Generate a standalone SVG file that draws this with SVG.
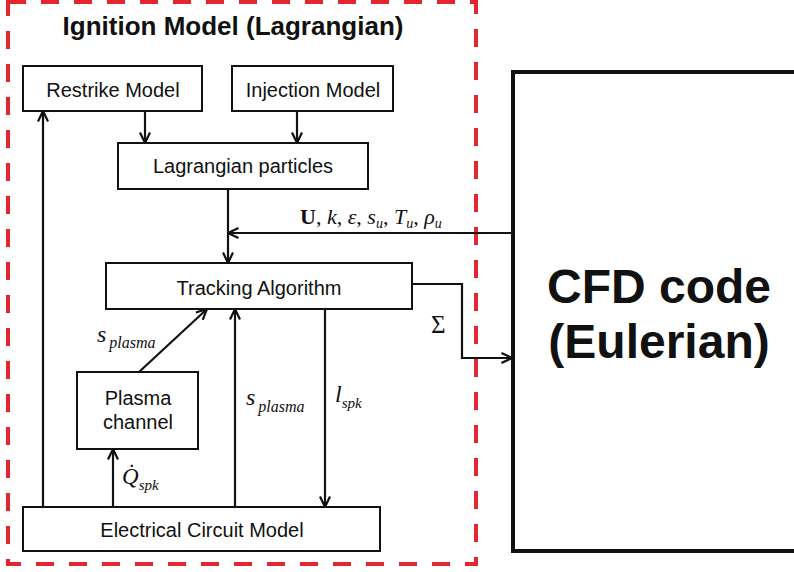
<svg xmlns="http://www.w3.org/2000/svg" width="794" height="572" viewBox="0 0 794 572">
<style>
.box{fill:#fff;stroke:#111;stroke-width:2}
.lbl{font-family:"Liberation Sans",Arial,sans-serif;font-size:20px;fill:#111;text-anchor:middle}
.math{font-family:"Liberation Serif","Times New Roman",serif;font-style:italic;fill:#111}
.con{fill:none;stroke:#111;stroke-width:2.2}
</style>
<defs>
<marker id="arr" viewBox="0 0 12 12" refX="11.5" refY="6" markerWidth="12" markerHeight="12" markerUnits="userSpaceOnUse" orient="auto">
<path d="M1,1 L11.5,6 L1,11" fill="none" stroke="#111" stroke-width="2.2"/>
</marker>
</defs>
<rect width="794" height="572" fill="#fff"/>
<g id="ignition-frame">
<rect x="8" y="2" width="468" height="562" fill="none" stroke="#e3262f" stroke-width="4" stroke-dasharray="18 15"/>
<text x="233" y="35" style="font-family:'Liberation Sans',Arial,sans-serif;font-size:26px;font-weight:bold;fill:#111" text-anchor="middle">Ignition Model (Lagrangian)</text>
</g>
<g id="cfd">
<rect x="513" y="72" width="300" height="479" fill="#fff" stroke="#111" stroke-width="4"/>
<text x="659" y="303" style="font-family:'Liberation Sans',Arial,sans-serif;font-size:48px;font-weight:bold;fill:#111" text-anchor="middle">CFD code</text>
<text x="659" y="358" style="font-family:'Liberation Sans',Arial,sans-serif;font-size:48px;font-weight:bold;fill:#111" text-anchor="middle">(Eulerian)</text>
</g>
<g id="restrike">
<rect class="box" x="23" y="66" width="179" height="45"/>
<text class="lbl" x="113" y="97">Restrike Model</text>
</g>
<g id="injection">
<rect class="box" x="232" y="66" width="161" height="45"/>
<text class="lbl" x="313" y="97">Injection Model</text>
</g>
<g id="lagrangian">
<rect class="box" x="118" y="143" width="250" height="46"/>
<text class="lbl" x="243" y="173">Lagrangian particles</text>
</g>
<g id="tracking">
<rect class="box" x="106" y="263" width="306" height="46"/>
<text class="lbl" x="259" y="295">Tracking Algorithm</text>
</g>
<g id="plasma">
<rect class="box" x="77" y="372" width="121" height="77"/>
<text class="lbl" x="138" y="405">Plasma</text>
<text class="lbl" x="138" y="429">channel</text>
</g>
<g id="electrical">
<rect class="box" x="23" y="507" width="357" height="44"/>
<text class="lbl" x="202" y="537">Electrical Circuit Model</text>
</g>
<g id="connectors">
<line class="con" x1="145" y1="111" x2="145" y2="143" marker-end="url(#arr)"/>
<line class="con" x1="297" y1="111" x2="297" y2="143" marker-end="url(#arr)"/>
<line class="con" x1="228" y1="189" x2="228" y2="263" marker-end="url(#arr)"/>
<line class="con" x1="513" y1="233" x2="228" y2="233" marker-end="url(#arr)"/>
<path class="con" d="M412,284 H462 V358 H512" marker-end="url(#arr)"/>
<line class="con" x1="139" y1="372" x2="207" y2="309" marker-end="url(#arr)"/>
<line class="con" x1="235" y1="507" x2="235" y2="309" marker-end="url(#arr)"/>
<line class="con" x1="325" y1="309" x2="325" y2="507" marker-end="url(#arr)"/>
<line class="con" x1="43" y1="507" x2="43" y2="111" marker-end="url(#arr)"/>
<line class="con" x1="113" y1="507" x2="113" y2="449" marker-end="url(#arr)"/>
<text class="math" x="300" y="224" font-size="22"><tspan font-style="normal" font-weight="bold">U</tspan><tspan font-style="normal">, </tspan>k<tspan font-style="normal">, </tspan>ε<tspan font-style="normal">, </tspan>s<tspan font-size="14" dy="4">u</tspan><tspan font-style="normal" dy="-4">, </tspan>T<tspan font-size="14" dy="4">u</tspan><tspan font-style="normal" dy="-4">, </tspan>ρ<tspan font-size="14" dy="4">u</tspan></text>
<text x="431" y="333" style="font-family:'Liberation Serif','Times New Roman',serif;font-size:25px;fill:#111">Σ</text>
<text class="math" x="97" y="342" font-size="24">s<tspan font-size="16" dx="3" dy="6">plasma</tspan></text>
<text class="math" x="246" y="405" font-size="24">s<tspan font-size="16" dx="3" dy="7">plasma</tspan></text>
<text class="math" x="335" y="402" font-size="24">l<tspan font-size="15" dy="6">spk</tspan></text>
<text class="math" x="122" y="484" font-size="23">Q&#775;<tspan font-size="15" dy="6">spk</tspan></text>
</g>
</svg>
